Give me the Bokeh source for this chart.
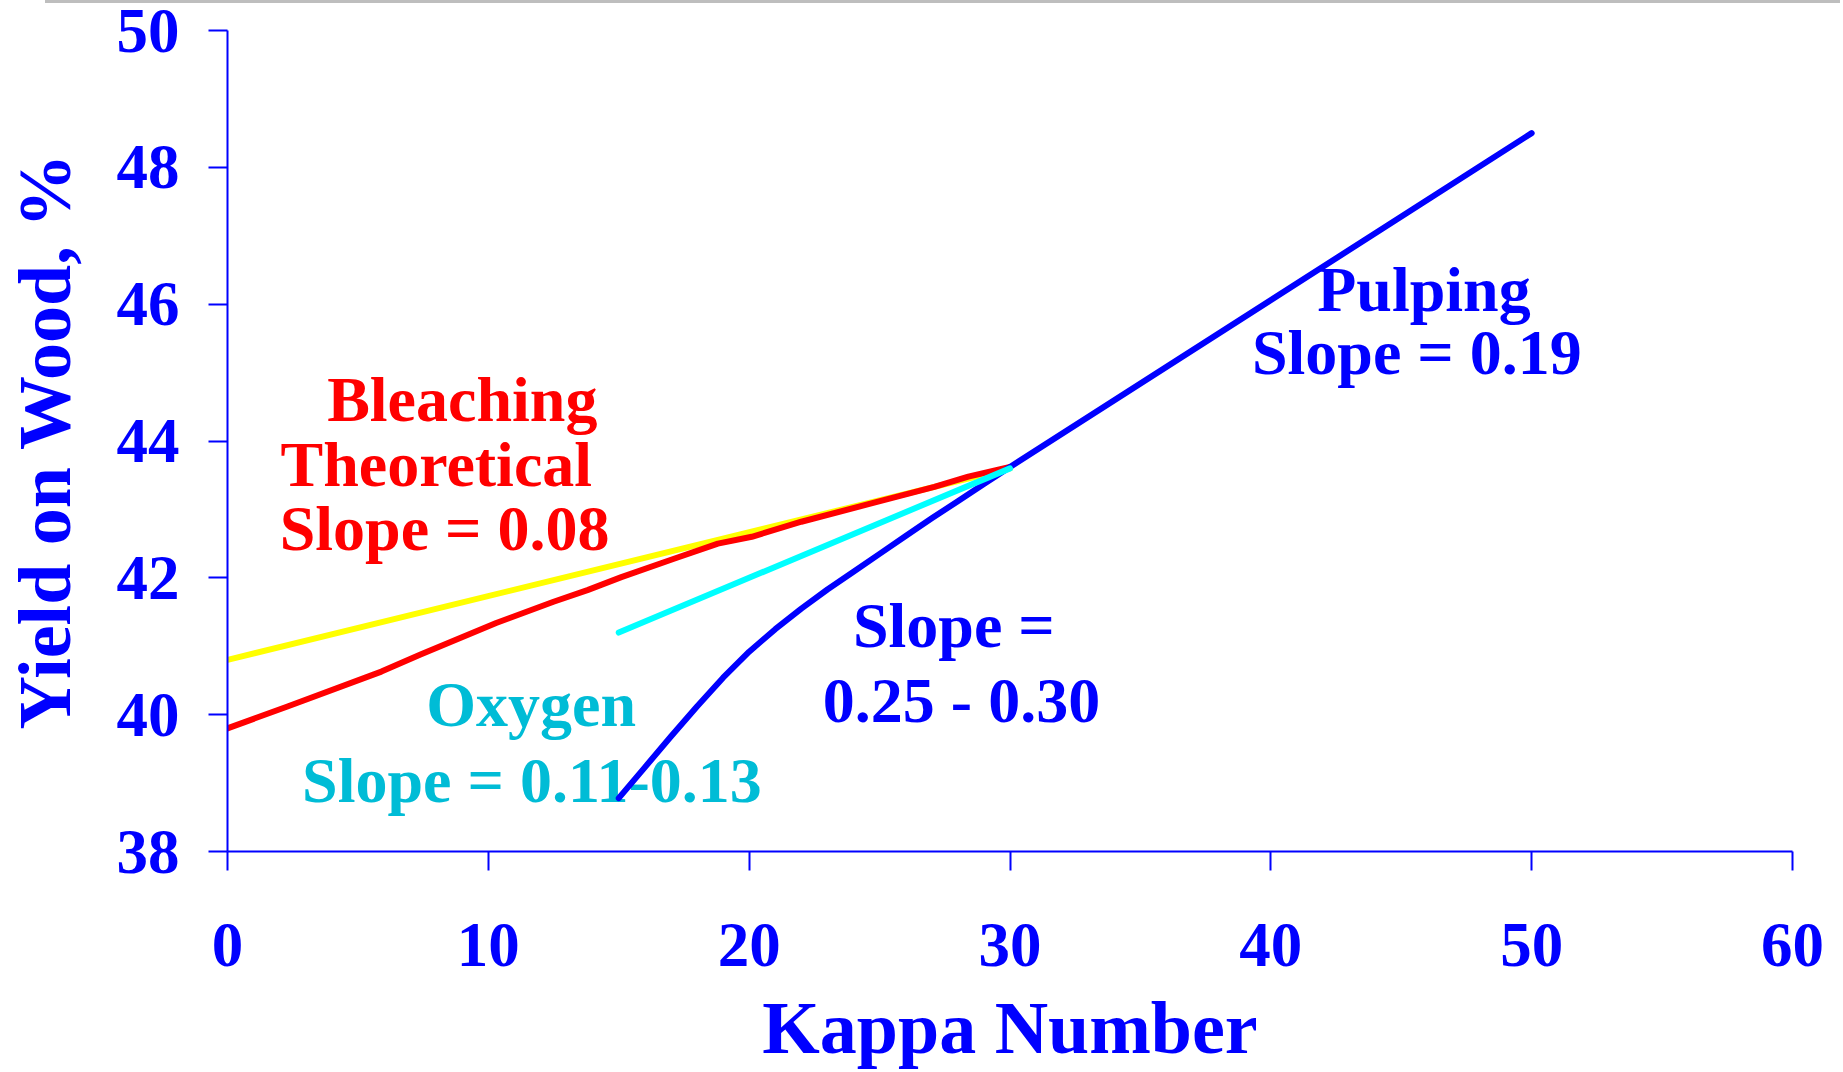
from bokeh.plotting import figure
from bokeh.models import Range1d, FixedTicker, Div
from bokeh.layouts import column
from bokeh.core.properties import value
from bokeh.embed import file_html
from bokeh.resources import INLINE

# ---------------- data ----------------
x_ticks = [0, 10, 20, 30, 40, 50, 60]
y_ticks = [38, 40, 42, 44, 46, 48, 50]

# Bleaching, theoretical (yellow, straight)
theo_kappa = [0.0, 30.0]
theo_yield = [40.8, 43.6]

# Bleaching, actual (red)
bleach_kappa = [0.0, 2.3, 5.9, 7.4, 10.3, 12.5, 13.8, 15.1, 17.2, 18.8, 20.1, 22.0, 24.5, 27.1, 28.4, 30.0]
bleach_yield = [39.80, 40.12, 40.63, 40.88, 41.34, 41.65, 41.82, 42.01, 42.29, 42.50, 42.60, 42.82, 43.07, 43.33, 43.48, 43.62]

# Oxygen delignification (cyan)
oxy_kappa = [15.0, 30.0]
oxy_yield = [41.2, 43.6]

# Pulping (blue)
pulp_kappa = [15.0, 16.0, 17.0, 18.0, 19.0, 20.0, 21.0, 22.0, 23.0, 24.0, 25.0,
              26.0, 27.0, 28.0, 29.0, 30.0, 50.0]
pulp_yield = [38.78, 39.23, 39.68, 40.12, 40.54, 40.92, 41.25, 41.55, 41.83, 42.09, 42.35,
              42.61, 42.87, 43.12, 43.37, 43.62, 48.50]

# annotation texts
bleach_text = ["Bleaching", "Theoretical", "Slope = 0.08"]
bleach_tx = [3.82, 2.03, 2.0]
bleach_ty = [44.60, 43.66, 42.72]

pulp_text = ["Pulping", "Slope = 0.19"]
pulp_tx = [45.87, 45.6]
pulp_ty = [46.21, 45.30]

slope_text = ["Slope =", "0.25 - 0.30"]
slope_tx = [27.85, 28.14]
slope_ty = [41.31, 40.20]

oxy_text = ["Oxygen", "Slope = 0.11-0.13"]
oxy_tx = [11.64, 11.67]
oxy_ty = [40.15, 39.04]

BLUE = "#0000FF"
RED = "#FF0000"
YELLOW = "#FFFF00"
CYAN = "#00FFFF"
OXY_TEXT = "#00BCD6"
FONT = "Liberation Serif"

p = figure(width=1840, height=1069, output_backend="svg", toolbar_location=None,
           x_range=Range1d(0, 60), y_range=Range1d(38, 50),
           min_border_left=227, min_border_right=48, min_border_top=27, min_border_bottom=221)
p.outline_line_color = None
p.xgrid.visible = False
p.ygrid.visible = False
p.background_fill_color = "white"
p.border_fill_color = "white"

for ax in (p.xaxis[0], p.yaxis[0]):
    ax.axis_line_color = BLUE
    ax.axis_line_width = 2
    ax.major_tick_line_color = BLUE
    ax.major_tick_line_width = 2
    ax.major_tick_out = 19
    ax.major_tick_in = 0
    ax.minor_tick_line_color = None
    ax.major_label_text_color = BLUE
    ax.major_label_text_font = FONT
    ax.major_label_text_font_style = "bold"
    ax.major_label_text_font_size = "63px"
    ax.axis_label_text_color = BLUE
    ax.axis_label_text_font = FONT
    ax.axis_label_text_font_style = "bold"
    ax.axis_label_text_font_size = "74px"

p.xaxis.ticker = FixedTicker(ticks=x_ticks)
p.yaxis.ticker = FixedTicker(ticks=y_ticks)
p.xaxis.axis_label = "Kappa Number"
p.yaxis.axis_label = "Yield on Wood, %"
p.xaxis.major_label_standoff = 53
p.xaxis.axis_label_standoff = 18
p.yaxis.major_label_standoff = 29
p.yaxis.axis_label_standoff = 28

def add_text(xs, ys, texts, color, align):
    p.text(x=xs, y=ys, text=texts, text_color=color, text_font=value(FONT),
           text_font_style="bold", text_font_size="64px", text_align=align,
           text_baseline="alphabetic")

add_text(bleach_tx, bleach_ty, bleach_text, RED, "left")
add_text(pulp_tx, pulp_ty, pulp_text, BLUE, "center")
add_text(slope_tx, slope_ty, slope_text, BLUE, "center")
add_text(oxy_tx, oxy_ty, oxy_text, OXY_TEXT, "center")

lw = 6
p.line(theo_kappa, theo_yield, line_color=YELLOW, line_width=lw, line_cap="round", line_join="round")
p.line(bleach_kappa, bleach_yield, line_color=RED, line_width=lw, line_cap="round", line_join="round")
p.line(pulp_kappa, pulp_yield, line_color=BLUE, line_width=lw, line_cap="round", line_join="round")
p.line(oxy_kappa, oxy_yield, line_color=CYAN, line_width=lw, line_cap="round", line_join="round")

# thin grey rule across the top of the page
rule = Div(text="", width=1795, height=3, margin=(0, 0, 0, 45),
           styles={"background-color": "#BEBEBE"})

layout = column(rule, p, spacing=0)
open("out.html", "w").write(file_html(layout, INLINE))
